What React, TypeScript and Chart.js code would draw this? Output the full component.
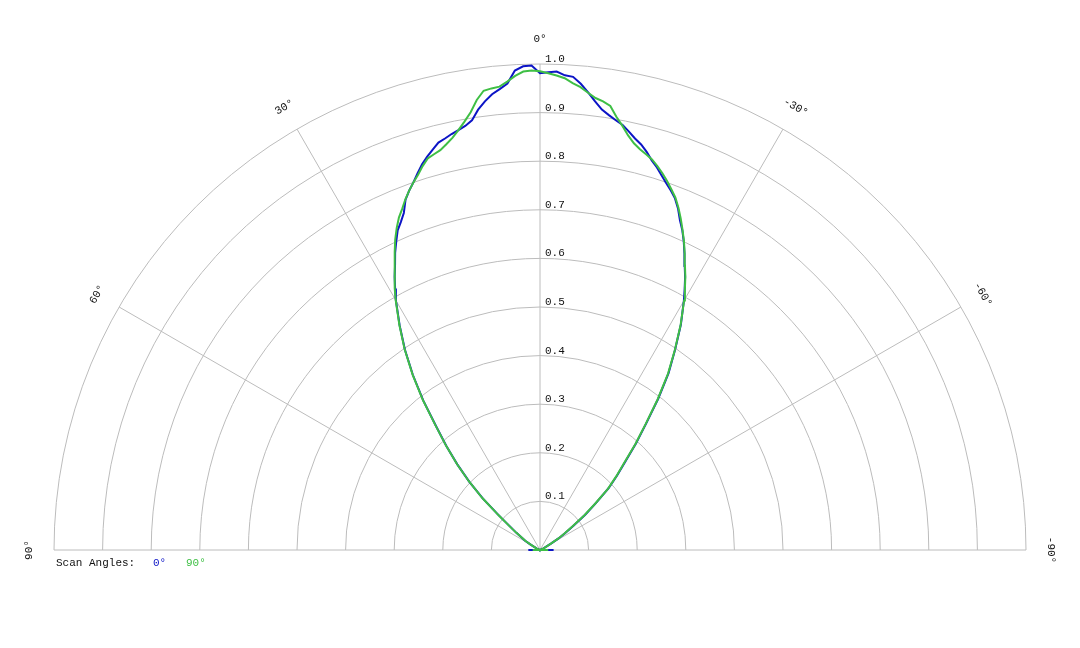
import { useEffect, useRef } from "react";
import { Chart, registerables } from "chart.js";

Chart.register(...registerables);

// scan angle (degrees, + to the left) and normalised intensity
const angles = [
  -90, -85, -80, -75, -70, -65, -60, -58, -56, -54, -52, -50, -48, -46, -44, -42, -40, -38, -36, -34, -32,
  -30, -29, -28, -27, -26, -25, -24, -23, -22, -21, -20, -19, -18, -17, -16, -15, -14, -13, -12, -11, -10,
  -9, -8, -7, -6, -5, -4, -3, -2, -1, 0, 1, 2, 3, 4, 5, 6, 7, 8, 9, 10, 11, 12, 13, 14, 15, 16, 17, 18, 19,
  20, 21, 22, 23, 24, 25, 26, 27, 28, 29, 30, 32, 34, 36, 38, 40, 42, 44, 46, 48, 50, 52, 54, 56, 58, 60,
  65, 70, 75, 80, 85, 90,
];

const scan0 = [
  0.028, 0.002, 0.001, 0.001, 0.002, 0.008, 0.026, 0.045, 0.062, 0.085, 0.118, 0.15, 0.19, 0.22, 0.252, 0.295,
  0.34, 0.395, 0.45, 0.497, 0.547,
  0.592, 0.614, 0.636, 0.656, 0.678, 0.7, 0.72, 0.737, 0.758, 0.775, 0.787, 0.798, 0.81, 0.823, 0.834, 0.848,
  0.86, 0.869, 0.88, 0.891, 0.898, 0.906, 0.915, 0.93, 0.947, 0.963, 0.976, 0.978, 0.985, 0.983,
  0.981,
  0.997, 0.996, 0.988, 0.962, 0.952, 0.943, 0.93, 0.915, 0.895, 0.886, 0.88, 0.875, 0.869, 0.864, 0.853, 0.842,
  0.83, 0.815, 0.8, 0.787, 0.772, 0.748, 0.733, 0.72, 0.7, 0.68, 0.657, 0.637, 0.615, 0.593,
  0.545, 0.497, 0.445, 0.39, 0.333, 0.288, 0.245, 0.202, 0.158, 0.11, 0.078, 0.06, 0.045, 0.036, 0.024,
  0.007, 0.002, 0.001, 0.001, 0.002, 0.024,
];

const scan90 = [
  0.017, 0.002, 0.001, 0.001, 0.002, 0.008, 0.025, 0.044, 0.06, 0.083, 0.116, 0.148, 0.188, 0.218, 0.25, 0.293,
  0.338, 0.393, 0.448, 0.496, 0.546,
  0.593, 0.615, 0.637, 0.657, 0.679, 0.701, 0.721, 0.741, 0.76, 0.777, 0.79, 0.803, 0.815, 0.826, 0.836, 0.843,
  0.85, 0.859, 0.872, 0.889, 0.905, 0.925, 0.932, 0.937, 0.946, 0.956, 0.963, 0.972, 0.977, 0.981,
  0.985,
  0.987, 0.985, 0.977, 0.966, 0.957, 0.955, 0.952, 0.935, 0.912, 0.895, 0.88, 0.867, 0.857, 0.848, 0.843, 0.838,
  0.826, 0.812, 0.8, 0.787, 0.773, 0.757, 0.743, 0.725, 0.705, 0.682, 0.658, 0.638, 0.616, 0.594,
  0.546, 0.498, 0.446, 0.391, 0.334, 0.289, 0.246, 0.203, 0.159, 0.111, 0.079, 0.06, 0.044, 0.035, 0.023,
  0.007, 0.002, 0.001, 0.001, 0.002, 0.015,
];

const ringValues = [0.1, 0.2, 0.3, 0.4, 0.5, 0.6, 0.7, 0.8, 0.9, 1.0];
const ringLabels = ["0.1", "0.2", "0.3", "0.4", "0.5", "0.6", "0.7", "0.8", "0.9", "1.0"];
const spokeAngles = [90, 60, 30, 0, -30, -60, -90];
const spokeLabels = ["90°", "60°", "30°", "0°", "-30°", "-60°", "-90°"];
const seriesNames = ["0°", "90°"];

const BLUE = "#0c14c6";
const GREEN = "#3fbf45";
const FONT = "11px 'Liberation Mono', 'DejaVu Sans Mono', monospace";

const toXY = (deg: number, r: number) => {
  const t = (deg * Math.PI) / 180;
  return { x: -r * Math.sin(t), y: r * Math.cos(t) };
};

const polarGrid = {
  id: "polarGrid",
  beforeDatasetsDraw(chart: any) {
    const { ctx } = chart;
    const { x, y } = chart.scales;
    const cx = x.getPixelForValue(0);
    const cy = y.getPixelForValue(0);
    const unit = x.getPixelForValue(1) - cx;

    ctx.save();
    ctx.strokeStyle = "#bcbcbc";
    ctx.lineWidth = 1;
    ringValues.forEach((v) => {
      ctx.beginPath();
      ctx.arc(cx, cy, v * unit, Math.PI, 2 * Math.PI);
      ctx.stroke();
    });
    spokeAngles.forEach((a) => {
      const t = (a * Math.PI) / 180;
      ctx.beginPath();
      ctx.moveTo(cx, cy);
      ctx.lineTo(cx - Math.sin(t) * unit, cy - Math.cos(t) * unit);
      ctx.stroke();
    });

    ctx.fillStyle = "#111";
    ctx.font = FONT;
    ctx.textAlign = "left";
    ctx.textBaseline = "middle";
    ringValues.forEach((v, i) => {
      ctx.fillText(ringLabels[i], cx + 5, cy - v * unit - 5);
    });

    ctx.textAlign = "center";
    spokeAngles.forEach((a, i) => {
      const t = (a * Math.PI) / 180;
      const r = 1.052 * unit;
      ctx.save();
      ctx.translate(cx - Math.sin(t) * r, cy - Math.cos(t) * r);
      ctx.rotate(-t);
      ctx.fillText(spokeLabels[i], 0, 0);
      ctx.restore();
    });
    ctx.restore();
  },
  afterDraw(chart: any) {
    const { ctx } = chart;
    const { x, y } = chart.scales;
    const left = x.getPixelForValue(-1) + 2;
    const top = y.getPixelForValue(0) + 13;
    ctx.save();
    ctx.font = FONT;
    ctx.textAlign = "left";
    ctx.textBaseline = "middle";
    ctx.fillStyle = "#111";
    ctx.fillText("Scan Angles:", left, top);
    ctx.fillStyle = BLUE;
    ctx.fillText(seriesNames[0], left + 97, top);
    ctx.fillStyle = GREEN;
    ctx.fillText(seriesNames[1], left + 130, top);
    ctx.restore();
  },
};

export default function App() {
  const chartRef = useRef<HTMLCanvasElement | null>(null);
  const chartInstanceRef = useRef<Chart | null>(null);

  useEffect(() => {
    document.body.style.margin = "0";
    if (!chartRef.current) return;
    const ctx = chartRef.current.getContext("2d");
    if (!ctx) return;

    if (chartInstanceRef.current) {
      chartInstanceRef.current.destroy();
    }

    const unitPx = 486;
    chartInstanceRef.current = new Chart(ctx, {
      type: "scatter",
      data: {
        datasets: [
          {
            label: seriesNames[0],
            data: angles.map((a, i) => toXY(a, scan0[i])),
            showLine: true,
            borderColor: BLUE,
            borderWidth: 2,
            pointRadius: 0,
            order: 2,
          },
          {
            label: seriesNames[1],
            data: angles.map((a, i) => toXY(a, scan90[i])),
            showLine: true,
            borderColor: GREEN,
            borderWidth: 2,
            pointRadius: 0,
            order: 1,
          },
        ],
      },
      options: {
        animation: false,
        responsive: true,
        maintainAspectRatio: false,
        layout: { padding: 0 },
        scales: {
          x: { type: "linear", display: false, min: -540 / unitPx, max: 540 / unitPx },
          y: { type: "linear", display: false, min: -98 / unitPx, max: 550 / unitPx },
        },
        plugins: {
          legend: { display: false },
          tooltip: { enabled: false },
        },
      },
      plugins: [polarGrid],
    });

    return () => {
      chartInstanceRef.current?.destroy();
      chartInstanceRef.current = null;
    };
  }, []);

  return (
    <div style={{ width: 1080, height: 648, background: "#fff" }}>
      <canvas ref={chartRef}></canvas>
    </div>
  );
}
